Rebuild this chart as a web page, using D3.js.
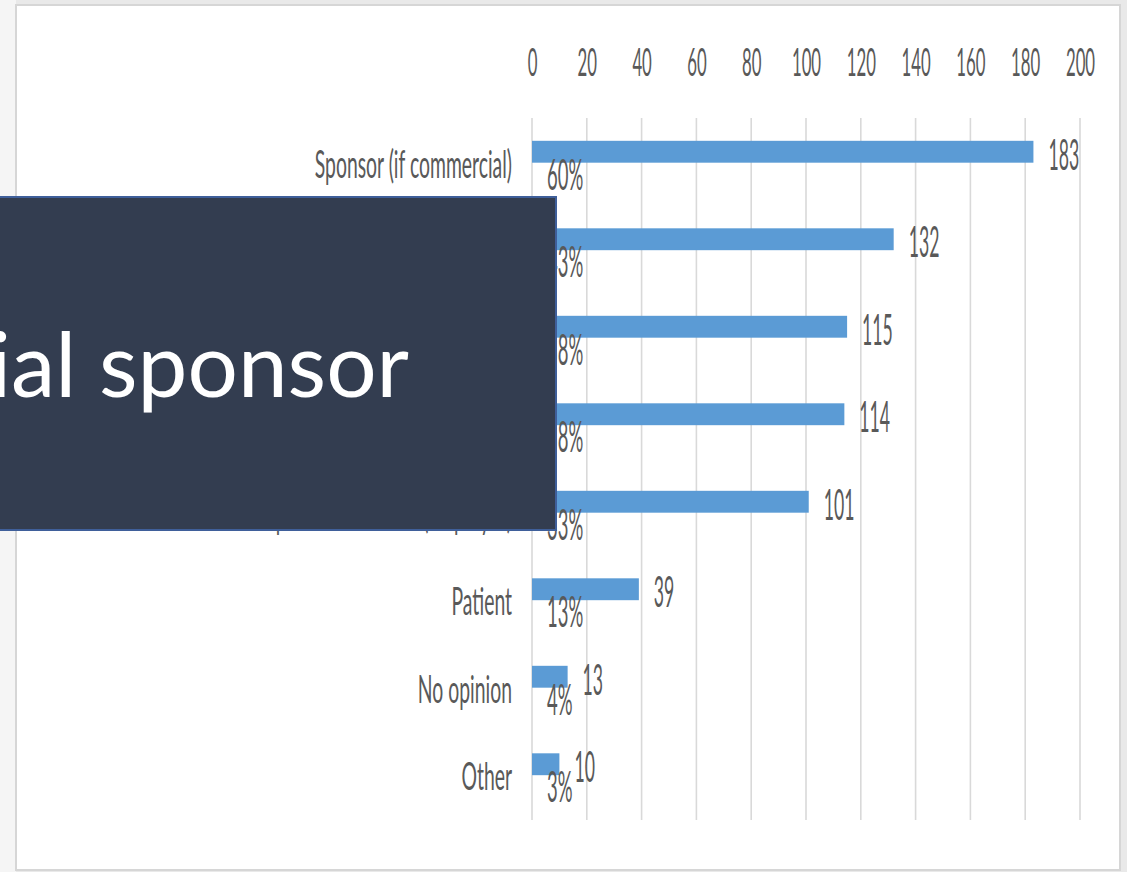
<!DOCTYPE html>
<html>
<head>
<meta charset="utf-8">
<script src="https://cdn.jsdelivr.net/npm/d3@7"></script>
<style>
  html, body { margin: 0; padding: 0; background: #ececec; }
  svg { display: block; }
</style>
</head>
<body>
<svg id="chart" width="1127" height="872"></svg>
<script>
// ---- data ----
const categories = [
  "Sponsor (if commercial)",
  "Principal investigator",
  "Sponsor (if academic)",
  "Ethics committee",
  "Hospital / institution (employer)",
  "Patient",
  "No opinion",
  "Other"
];
const counts = [183, 132, 115, 114, 101, 39, 13, 10];
const percents = ["60%", "43%", "38%", "38%", "33%", "13%", "4%", "3%"];
const tickValues = [0, 20, 40, 60, 80, 100, 120, 140, 160, 180, 200];
const overlayTitle = "Non-commercial sponsor";

// ---- layout ----
const W = 1127, H = 872;
const svg = d3.select("#chart");
const FONT = "Lato, 'Open Sans', sans-serif";
const TXT = "#595959";

// page / card
svg.append("rect").attr("x", 0).attr("y", 0).attr("width", W).attr("height", H).attr("fill", "#e9e9e9");
svg.append("rect").attr("x", 0).attr("y", 0).attr("width", 16).attr("height", H).attr("fill", "#f5f5f5");
svg.append("rect").attr("x", 16).attr("y", 5).attr("width", 1104).attr("height", 865)
  .attr("fill", "#ffffff").attr("stroke", "#d6d6d6").attr("stroke-width", 2);

const x = d3.scaleLinear().domain([0, 200]).range([532, 1080]);
const y = d3.scaleBand().domain(categories).range([108, 808]).padding(0);
const barH = y.bandwidth() * 0.25;
const cy = c => y(c) + y.bandwidth() / 2;

// gridlines
svg.append("g").selectAll("line").data(tickValues).join("line")
  .attr("x1", d => x(d)).attr("x2", d => x(d))
  .attr("y1", 118).attr("y2", 820)
  .attr("stroke", "#d9d9d9").attr("stroke-width", 1.6);

// top axis
const axis = d3.axisTop(x).tickValues(tickValues).tickSize(0).tickPadding(0).tickFormat(d3.format("d"));
const gAxis = svg.append("g").attr("transform", "translate(0,76)").call(axis);
gAxis.select(".domain").remove();
gAxis.selectAll("text")
  .attr("y", 0).attr("dy", 0)
  .attr("transform", "scale(0.43,1)")
  .style("font-family", FONT).style("font-size", "39px").attr("fill", TXT);

// bars
svg.append("g").selectAll("rect").data(categories).join("rect")
  .attr("x", x(0))
  .attr("y", c => cy(c) - barH / 2)
  .attr("width", (c, i) => x(counts[i]) - x(0))
  .attr("height", barH)
  .attr("fill", "#5b9bd5");

function squeezedText(g, data, fx, fy, txt, anchor, size, sx) {
  return g.selectAll("text").data(data).join("text")
    .attr("transform", (d, i) => `translate(${fx(d, i)},${fy(d, i)}) scale(${sx},1)`)
    .attr("text-anchor", anchor)
    .style("font-family", FONT).style("font-size", size + "px").attr("fill", TXT)
    .text(txt);
}

// category labels
squeezedText(svg.append("g"), categories, () => x(0) - 20, c => cy(c) + 26, c => c, "end", 38, 0.51);
// value labels
squeezedText(svg.append("g"), categories, (c, i) => x(counts[i]) + 15, c => cy(c) + 18, (c, i) => counts[i], "start", 42, 0.42);
// percent labels
squeezedText(svg.append("g"), categories, () => x(0) + 15, c => cy(c) + 38, (c, i) => percents[i], "start", 42, 0.44);

// overlay title box
svg.append("rect").attr("x", -4).attr("y", 197).attr("width", 560).attr("height", 333)
  .attr("fill", "#333d50").attr("stroke", "#3f5f9a").attr("stroke-width", 2);
svg.append("text").attr("x", 409).attr("y", 397).attr("text-anchor", "end")
  .style("font-family", "Lato, 'Open Sans', sans-serif").style("font-size", "89px")
  .attr("fill", "#ffffff").text(overlayTitle);
</script>
</body>
</html>
